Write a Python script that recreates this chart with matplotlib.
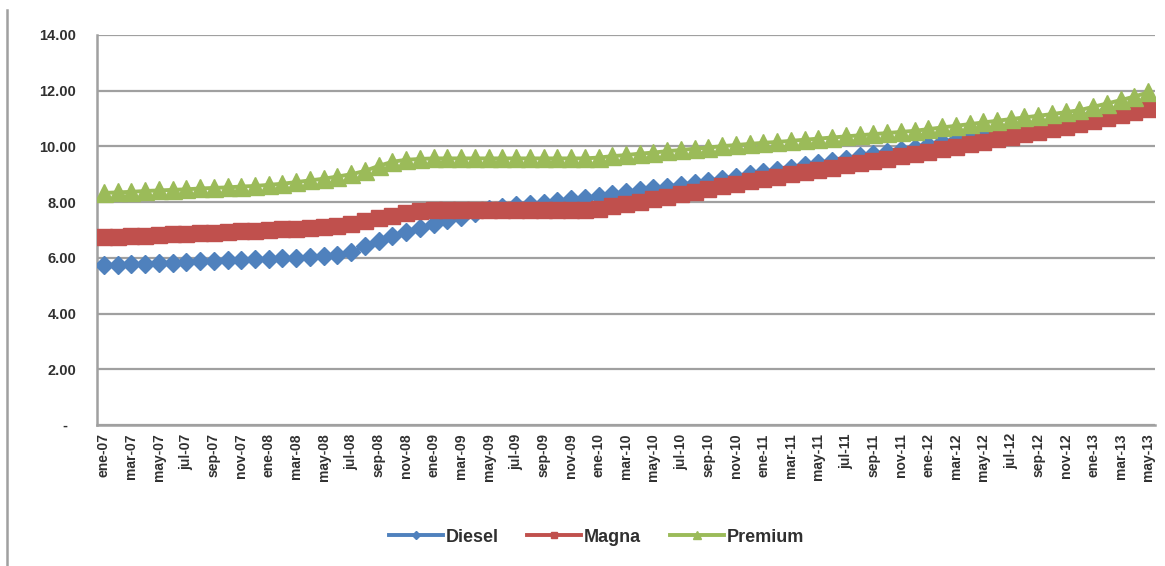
import matplotlib
matplotlib.use("Agg")
import matplotlib.pyplot as plt
from matplotlib.lines import Line2D

# month labels, ene-07 .. may-13
meses = ['ene', 'feb', 'mar', 'abr', 'may', 'jun', 'jul', 'ago', 'sep', 'oct', 'nov', 'dic']
periodos = [f"{m}-{a:02d}" for a in range(7, 14) for m in meses][:77]

# precio por litro (pesos)
diesel = [5.73, 5.75, 5.77, 5.79, 5.81, 5.83, 5.85, 5.87, 5.89, 5.91, 5.93, 5.95,
          5.97, 5.99, 6.01, 6.03, 6.05, 6.09, 6.20, 6.42, 6.62, 6.78, 6.94, 7.08,
          7.22, 7.35, 7.48, 7.62, 7.74, 7.82, 7.88, 7.93, 7.98, 8.04, 8.10, 8.16,
          8.22, 8.28, 8.35, 8.42, 8.49, 8.56, 8.63, 8.70, 8.77, 8.84, 8.92, 9.00,
          9.08, 9.16, 9.24, 9.32, 9.40, 9.48, 9.56, 9.64, 9.72, 9.80, 9.88, 9.96,
          10.06, 10.15, 10.24, 10.33, 10.42, 10.51, 10.60, 10.69, 10.78, 10.87, 10.96, 11.05,
          11.16, 11.27, 11.38, 11.49, 11.60]
magna = [6.74, 6.76, 6.78, 6.80, 6.82, 6.84, 6.86, 6.88, 6.91, 6.93, 6.95, 6.98,
         7.01, 7.03, 7.05, 7.08, 7.11, 7.15, 7.22, 7.32, 7.42, 7.52, 7.60, 7.67,
         7.72, 7.72, 7.72, 7.72, 7.72, 7.72, 7.72, 7.72, 7.72, 7.72, 7.72, 7.72,
         7.77, 7.85, 7.93, 8.02, 8.11, 8.20, 8.29, 8.38, 8.48, 8.57, 8.66, 8.76,
         8.84, 8.92, 9.00, 9.08, 9.16, 9.24, 9.32, 9.40, 9.48, 9.56, 9.64, 9.73,
         9.81, 9.90, 9.99, 10.08, 10.17, 10.26, 10.35, 10.44, 10.53, 10.62, 10.71, 10.81,
         10.92, 11.03, 11.14, 11.25, 11.36]
premium = [8.33, 8.35, 8.37, 8.40, 8.42, 8.44, 8.46, 8.49, 8.51, 8.53, 8.56, 8.58,
           8.62, 8.66, 8.72, 8.78, 8.84, 8.92, 9.00, 9.12, 9.30, 9.45, 9.52, 9.55,
           9.57, 9.57, 9.57, 9.57, 9.57, 9.57, 9.57, 9.57, 9.57, 9.57, 9.57, 9.57,
           9.60, 9.65, 9.69, 9.74, 9.78, 9.83, 9.87, 9.92, 9.96, 10.01, 10.05, 10.09,
           10.13, 10.16, 10.20, 10.24, 10.28, 10.32, 10.36, 10.40, 10.44, 10.48, 10.52, 10.56,
           10.62, 10.68, 10.74, 10.80, 10.86, 10.92, 10.98, 11.04, 11.10, 11.16, 11.23, 11.30,
           11.42, 11.54, 11.66, 11.79, 11.94]

y_ticks = [0, 2, 4, 6, 8, 10, 12, 14]
y_labels = ['-  ', '2.00', '4.00', '6.00', '8.00', '10.00', '12.00', '14.00']

plt.rcParams['font.family'] = ['Liberation Sans', 'DejaVu Sans']
plt.rcParams['font.weight'] = 'bold'
txt = '#303030'
gris = '#a0a0a0'

fig = plt.figure(figsize=(11.65, 5.66), dpi=100)
ax = fig.add_axes([97 / 1165, 1 - 425 / 566, 1058 / 1165, 390 / 566])

x = range(len(periodos))
ax.plot(x, diesel, color='#4f81bd', lw=2.8, marker='D', ms=9.5, label='Diesel', zorder=3)
ax.plot(x, magna, color='#c0504d', lw=2.8, marker='s', ms=11, label='Magna', zorder=4)
ax.plot(x, premium, color='#9bbb59', lw=2.8, marker='^', ms=13, label='Premium', zorder=5)

ax.set_xlim(-0.5, len(periodos) - 0.5)
ax.set_ylim(0, 14)
ax.set_yticks(y_ticks)
ax.set_yticklabels(y_labels)
ax.set_xticks(list(x)[::2])
ax.set_xticklabels(periodos[::2], rotation=90)
ax.tick_params(axis='y', length=0, pad=15, labelsize=10.5, labelcolor=txt)
ax.tick_params(axis='x', length=0, pad=6, labelsize=10, labelcolor=txt)

ax.grid(axis='y', color=gris, lw=1.6)
ax.set_axisbelow(True)
for s in ['top', 'right']:
    ax.spines[s].set_visible(False)
for s in ['left', 'bottom']:
    ax.spines[s].set_color(gris)
    ax.spines[s].set_linewidth(1.8)

fig.legend(loc='center', bbox_to_anchor=(0.512, 0.051), ncol=3, frameon=False,
           fontsize=13, handlelength=3.0, handletextpad=0.15, columnspacing=1.6,
           markerscale=0.45, labelcolor=txt)

# borde izquierdo del marco
fig.add_artist(Line2D([7 / 1165, 7 / 1165], [0, 1 - 10 / 566], color=gris, lw=1.8))

fig.savefig('out.png', dpi=100)
